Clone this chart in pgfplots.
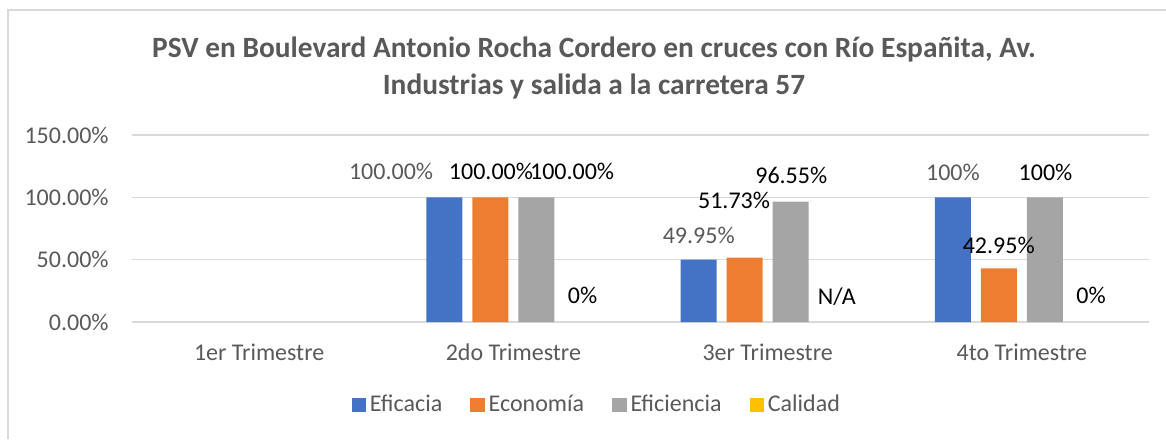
\documentclass[border=0pt]{standalone}
\usepackage{fontspec}
\setmainfont{Carlito}
\usepackage{pgfplots}
\pgfplotsset{compat=1.18}

\definecolor{cBlue}{HTML}{4472C4}
\definecolor{cOrange}{HTML}{ED7D31}
\definecolor{cGray}{HTML}{A5A5A5}
\definecolor{cYellow}{HTML}{FFC000}
\definecolor{txtgray}{HTML}{595959}
\definecolor{gridgray}{HTML}{D9D9D9}

\begin{document}
\begin{tikzpicture}
\path[use as bounding box] (0,0) rectangle (583pt,219.5pt);
% chart frame (only left and top edges are visible)
\draw[gridgray, line width=0.75pt] (4pt,0) -- (4pt,214.5pt) -- (583pt,214.5pt);

\node[align=center, text=txtgray, font=\fontsize{14.7}{18.5}\selectfont\bfseries]
  at (297pt,185.25pt) {PSV en Boulevard Antonio Rocha Cordero en cruces con Río Españita, Av.\\Industrias y salida a la carretera 57};

\begin{axis}[
    at={(66pt,58.5pt)}, anchor=south west,
    scale only axis,
    width=508.5pt, height=93.5pt,
    xmin=-0.5, xmax=3.5,
    ymin=0, ymax=150,
    ybar=5pt, bar width=18pt,
    xtick={0,1,2,3},
    xticklabels={1er Trimestre,2do Trimestre,3er Trimestre,4to Trimestre},
    ytick={0,50,100,150},
    yticklabels={0.00\%,50.00\%,100.00\%,150.00\%},
    ymajorgrids,
    major grid style={gridgray, line width=0.75pt},
    axis line style={draw=none},
    major tick length=0pt,
    tick label style={font=\fontsize{12}{14.4}\selectfont, text=txtgray},
    yticklabel style={inner sep=0pt, xshift=-11.5pt},
    xticklabel style={anchor=base, inner sep=0pt, yshift=-19.4pt},
    clip=false,
    legend columns=4,
    legend style={at={(0.458,-0.444)}, anchor=center, draw=none,
        font=\fontsize{12}{14.4}\selectfont, text=txtgray,
        /tikz/every even column/.append style={column sep=12pt}},
    legend image code/.code={\fill[#1] (0pt,-3.6pt) rectangle (7.2pt,3.6pt);},
]
\addplot[fill=cBlue, draw=none] coordinates {(1,100) (2,49.95) (3,100)};
\addplot[fill=cOrange, draw=none] coordinates {(1,100) (2,51.73) (3,42.95)};
\addplot[fill=cGray, draw=none] coordinates {(1,100) (2,96.55) (3,100)};
% Calidad: zero-height bars, invisible in the plot, yellow in the legend
\addplot[fill=none, draw=none, legend image post style={fill=cYellow}] coordinates {(1,0) (2,0) (3,0)};
\legend{Eficacia,Economía,Eficiencia,Calidad}

\begin{scope}[every node/.style={font=\fontsize{12}{14.4}\selectfont}]
% 2do Trimestre
\node[text=txtgray] at (axis cs:0.519,120.4) {100.00\%};
\node[text=black] at (axis cs:0.912,120.4) {100.00\%};
\node[text=black] at (axis cs:1.231,120.4) {100.00\%};
\node[text=black] at (axis cs:1.272,21.7) {0\%};
% 3er Trimestre
\node[text=txtgray] at (axis cs:1.729,69.8) {49.95\%};
\node[text=black] at (axis cs:1.868,97.9) {51.73\%};
\node[text=black] at (axis cs:2.093,117.2) {96.55\%};
\node[text=black] at (axis cs:2.272,20) {N/A};
% 4to Trimestre
\node[text=txtgray] at (axis cs:2.729,119.6) {100\%};
\node[text=black] at (axis cs:2.909,61.8) {42.95\%};
\node[text=black] at (axis cs:3.093,119.6) {100\%};
\node[text=black] at (axis cs:3.272,21.7) {0\%};
\end{scope}
\end{axis}
\end{tikzpicture}
\end{document}
